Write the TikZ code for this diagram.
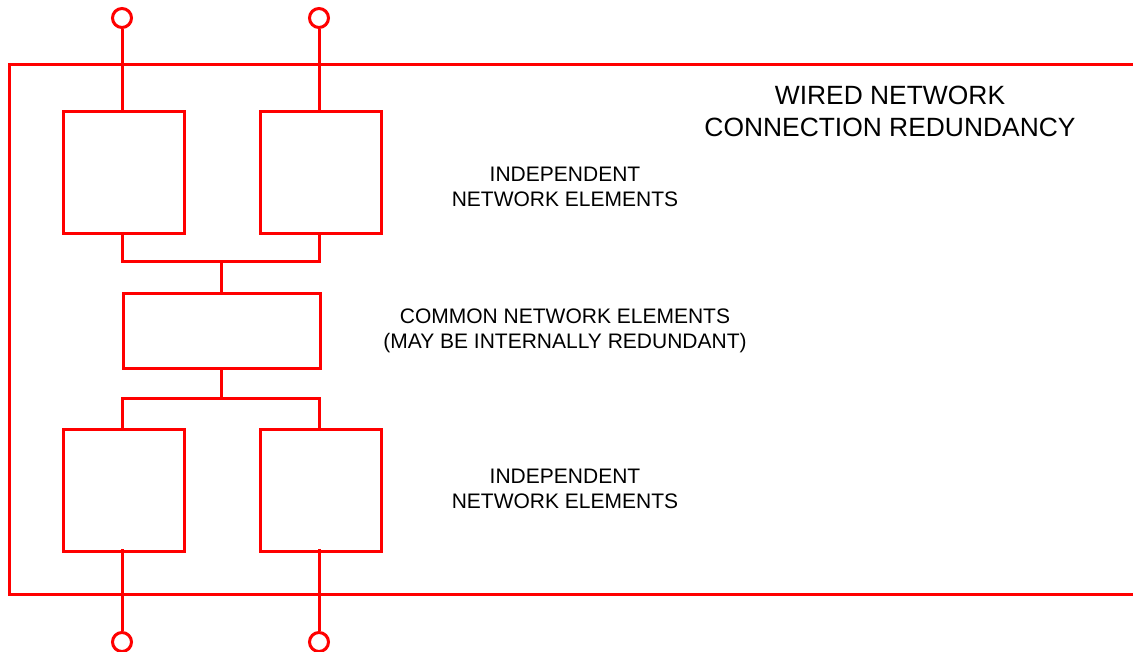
\documentclass[tikz,border=0pt]{standalone}
\usepackage{fontspec}
\setmainfont{Liberation Sans}
\begin{document}
\begin{tikzpicture}[x=1pt,y=-1pt,
  wire/.style={draw=red,line width=3pt},
  elem/.style={wire,rectangle,minimum width=121pt,minimum height=122pt,inner sep=0pt,anchor=north west},
  common/.style={wire,rectangle,minimum width=197pt,minimum height=75pt,inner sep=0pt,anchor=north west},
  term/.style={wire,circle,minimum size=19pt,inner sep=0pt},
  biglabel/.style={align=center,font=\fontsize{26.4}{32}\selectfont},
  smalllabel/.style={align=center,font=\fontsize{21}{25}\selectfont}]
\useasboundingbox (0,0) rectangle (1133,652);

% enclosure (open to the right)
\draw[wire] (1140,65) -- (9,65) -- (9,594) -- (1140,594);

% terminals
\node[term] (t1) at (122,18) {};
\node[term] (t2) at (319,18) {};
\node[term] (b1) at (122,642) {};
\node[term] (b2) at (319,642) {};

% network elements
\node[elem] (ua) at (62,110) {};
\node[elem] (ub) at (259,110) {};
\node[common] (cm) at (122,292) {};
\node[elem] (la) at (62,428) {};
\node[elem] (lb) at (259,428) {};

% junction points
\coordinate (ua-s) at (122,232);
\coordinate (ub-s) at (319,232);
\coordinate (busU-a) at (122,262);
\coordinate (busU-b) at (319,262);
\coordinate (busU-m) at (221,262);
\coordinate (busL-a) at (122,398);
\coordinate (busL-b) at (319,398);
\coordinate (busL-m) at (221,398);
\coordinate (la-s) at (122,549);
\coordinate (lb-s) at (319,549);

% connections
\draw[wire] (t1.south) -- (t1.south |- ua.north);
\draw[wire] (t2.south) -- (t2.south |- ub.north);
\draw[wire] (ua-s) -- (busU-a) -- (busU-b) -- (ub-s);
\draw[wire] (busU-m) -- (busU-m |- cm.north);
\draw[wire] (busL-m |- cm.south) -- (busL-m);
\draw[wire] (la.north -| busL-a) -- (busL-a) -- (busL-b) -- (lb.north -| busL-b);
\draw[wire] (la-s) -- (b1.north);
\draw[wire] (lb-s) -- (b2.north);

% labels
\node[biglabel] (title) at (890,111) {WIRED NETWORK\\CONNECTION REDUNDANCY};
\node[smalllabel] (indU) at (565,187) {INDEPENDENT\\NETWORK ELEMENTS};
\node[smalllabel] (cmL) at (565,331) {COMMON NETWORK ELEMENTS\\(MAY BE INTERNALLY REDUNDANT)};
\node[smalllabel] (indL) at (565,489) {INDEPENDENT\\NETWORK ELEMENTS};
\end{tikzpicture}
\end{document}
